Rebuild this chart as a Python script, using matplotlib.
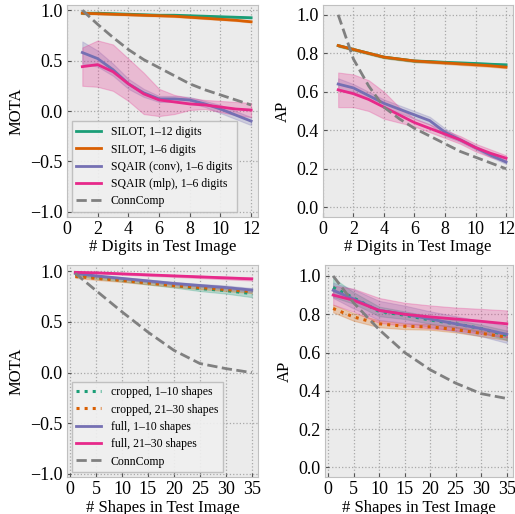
import matplotlib
matplotlib.use("Agg")
import matplotlib.pyplot as plt
import numpy as np

plt.rcParams['font.family'] = ['Liberation Serif', 'DejaVu Serif']
plt.rcParams['xtick.direction'] = 'in'
plt.rcParams['ytick.direction'] = 'in'

# colours (Dark2-ish)
green = '#1b9e77'
orange = '#d95f02'
purple = '#7570b3'
pink = '#e7298a'
gray = '#808080'

# ---- top row: digits ----
digits = [1, 2, 3, 4, 5, 6, 7, 8, 9, 10, 11, 12]

mota_silot12 = [0.97, 0.97, 0.965, 0.96, 0.955, 0.95, 0.95, 0.945, 0.94, 0.935, 0.93, 0.925]
mota_silot6 = [0.97, 0.965, 0.96, 0.955, 0.95, 0.945, 0.94, 0.93, 0.92, 0.91, 0.90, 0.885]
mota_conv = [0.58, 0.52, 0.41, 0.27, 0.18, 0.12, 0.12, 0.11, 0.07, 0.02, -0.04, -0.10]
mota_conv_hi = [0.69, 0.60, 0.47, 0.32, 0.22, 0.15, 0.15, 0.14, 0.10, 0.06, 0.00, -0.06]
mota_conv_lo = [0.47, 0.44, 0.35, 0.22, 0.14, 0.09, 0.09, 0.08, 0.04, -0.02, -0.08, -0.14]
mota_mlp = [0.44, 0.46, 0.39, 0.27, 0.17, 0.11, 0.09, 0.07, 0.06, 0.04, 0.02, 0.01]
mota_mlp_hi = [0.63, 0.70, 0.66, 0.52, 0.38, 0.22, 0.16, 0.13, 0.11, 0.10, 0.09, 0.08]
mota_mlp_lo = [0.25, 0.24, 0.20, 0.10, -0.03, -0.05, -0.03, 0.01, 0.02, -0.01, -0.04, -0.06]
mota_cc = [1.0, 0.86, 0.73, 0.61, 0.51, 0.43, 0.35, 0.27, 0.21, 0.16, 0.11, 0.06]

ap_silot12 = [0.84, 0.82, 0.80, 0.78, 0.77, 0.76, 0.757, 0.753, 0.75, 0.747, 0.743, 0.74]
ap_silot6 = [0.84, 0.82, 0.80, 0.78, 0.77, 0.76, 0.755, 0.75, 0.745, 0.74, 0.735, 0.728]
ap_conv = [0.64, 0.62, 0.58, 0.54, 0.51, 0.48, 0.45, 0.39, 0.35, 0.31, 0.27, 0.235]
ap_conv_hi = [0.67, 0.64, 0.60, 0.56, 0.53, 0.50, 0.47, 0.41, 0.36, 0.32, 0.28, 0.245]
ap_conv_lo = [0.61, 0.60, 0.56, 0.52, 0.49, 0.46, 0.43, 0.37, 0.34, 0.30, 0.26, 0.225]
ap_mlp = [0.61, 0.59, 0.56, 0.52, 0.48, 0.44, 0.41, 0.38, 0.35, 0.31, 0.28, 0.255]
ap_mlp_hi = [0.70, 0.69, 0.66, 0.60, 0.52, 0.46, 0.43, 0.40, 0.37, 0.33, 0.30, 0.27]
ap_mlp_lo = [0.52, 0.52, 0.50, 0.46, 0.44, 0.42, 0.39, 0.36, 0.33, 0.29, 0.26, 0.24]
ap_cc = [1.0, 0.77, 0.63, 0.52, 0.46, 0.41, 0.37, 0.33, 0.29, 0.26, 0.23, 0.20]

# ---- bottom row: shapes ----
shapes = [1, 5, 10, 15, 20, 25, 30, 35]

mota_crop10 = [0.97, 0.94, 0.915, 0.89, 0.86, 0.83, 0.81, 0.78]
mota_crop10_band = [0.01, 0.015, 0.015, 0.02, 0.02, 0.025, 0.03, 0.035]
mota_crop30 = [0.95, 0.93, 0.91, 0.885, 0.86, 0.84, 0.82, 0.80]
mota_crop30_band = [0.015, 0.015, 0.015, 0.015, 0.015, 0.015, 0.015, 0.015]
mota_full10 = [0.98, 0.955, 0.93, 0.905, 0.88, 0.86, 0.84, 0.815]
mota_full10_band = [0.01, 0.012, 0.012, 0.015, 0.015, 0.015, 0.02, 0.02]
mota_full30 = [0.99, 0.985, 0.975, 0.965, 0.955, 0.945, 0.935, 0.925]
mota_full30_band = [0.005, 0.006, 0.008, 0.01, 0.01, 0.012, 0.014, 0.016]
mota_cc_shapes = [0.98, 0.81, 0.60, 0.40, 0.22, 0.09, 0.04, 0.0]

ap_crop10 = [0.94, 0.885, 0.815, 0.795, 0.77, 0.75, 0.725, 0.69]
ap_crop10_band = [0.05, 0.03, 0.025, 0.02, 0.02, 0.02, 0.02, 0.025]
ap_crop30 = [0.83, 0.786, 0.75, 0.737, 0.734, 0.72, 0.70, 0.68]
ap_crop30_band = [0.02, 0.02, 0.018, 0.015, 0.015, 0.015, 0.015, 0.015]
ap_full10 = [0.925, 0.88, 0.82, 0.80, 0.775, 0.75, 0.725, 0.695]
ap_full10_band = [0.04, 0.05, 0.05, 0.045, 0.04, 0.04, 0.04, 0.045]
ap_full30 = [0.90, 0.873, 0.82, 0.80, 0.786, 0.775, 0.763, 0.75]
ap_full30_band = [0.05, 0.06, 0.065, 0.06, 0.06, 0.06, 0.065, 0.07]
ap_cc_shapes = [1.0, 0.86, 0.72, 0.60, 0.51, 0.44, 0.385, 0.36]


def style(ax):
    ax.set_facecolor('#ebebeb')
    for s in ax.spines.values():
        s.set_color('#c0c0c0')
    ax.grid(True, linestyle=':', color='#a8a8a8', linewidth=0.9)
    ax.set_axisbelow(True)
    ax.tick_params(labelsize=13, color='#555555', length=3, pad=3)


def band(ax, x, lo, hi, c, a=0.25):
    ax.fill_between(x, lo, hi, color=c, alpha=a, linewidth=0.8)


fig = plt.figure(figsize=(5.15, 5.14), dpi=100)
ax1 = fig.add_axes([0.130, 0.578, 0.371, 0.412])
ax2 = fig.add_axes([0.627, 0.578, 0.369, 0.412])
ax3 = fig.add_axes([0.130, 0.072, 0.371, 0.412])
ax4 = fig.add_axes([0.631, 0.072, 0.365, 0.412])

lw = 2.0

# panel 1
d = np.array(digits)
band(ax1, d, np.array(mota_silot12) - 0.008, np.array(mota_silot12) + 0.008, green)
band(ax1, d, np.array(mota_silot6) - 0.008, np.array(mota_silot6) + 0.008, orange)
band(ax1, d, mota_conv_lo, mota_conv_hi, purple)
band(ax1, d, mota_mlp_lo, mota_mlp_hi, pink)
ax1.plot(d, mota_silot12, color=green, lw=lw, label='SILOT, 1–12 digits')
ax1.plot(d, mota_silot6, color=orange, lw=lw, label='SILOT, 1–6 digits')
ax1.plot(d, mota_conv, color=purple, lw=lw, label='SQAIR (conv), 1–6 digits')
ax1.plot(d, mota_mlp, color=pink, lw=lw, label='SQAIR (mlp), 1–6 digits')
ax1.plot(d, mota_cc, color=gray, lw=lw, ls='--', label='ConnComp')
ax1.set_xlim(0, 12.45)
ax1.set_ylim(-1.05, 1.05)
ax1.set_xticks([0, 2, 4, 6, 8, 10, 12])
ax1.set_yticks([-1.0, -0.5, 0.0, 0.5, 1.0])
ax1.set_ylabel('MOTA', fontsize=12)
ax1.set_xlabel('# Digits in Test Image', fontsize=12, labelpad=1)

# panel 2
band(ax2, d, np.array(ap_silot12) - 0.006, np.array(ap_silot12) + 0.006, green)
band(ax2, d, np.array(ap_silot6) - 0.006, np.array(ap_silot6) + 0.006, orange)
band(ax2, d, ap_conv_lo, ap_conv_hi, purple)
band(ax2, d, ap_mlp_lo, ap_mlp_hi, pink)
ax2.plot(d, ap_silot12, color=green, lw=lw)
ax2.plot(d, ap_silot6, color=orange, lw=lw)
ax2.plot(d, ap_conv, color=purple, lw=lw)
ax2.plot(d, ap_mlp, color=pink, lw=lw)
ax2.plot(d, ap_cc, color=gray, lw=lw, ls='--')
ax2.set_xlim(0, 12.45)
ax2.set_ylim(-0.05, 1.05)
ax2.set_xticks([0, 2, 4, 6, 8, 10, 12])
ax2.set_yticks([0.0, 0.2, 0.4, 0.6, 0.8, 1.0])
ax2.set_ylabel('AP', fontsize=12)
ax2.set_xlabel('# Digits in Test Image', fontsize=12, labelpad=1)

# panel 3
s = np.array(shapes)
for m, b, c in [(mota_crop10, mota_crop10_band, green), (mota_crop30, mota_crop30_band, orange),
                (mota_full10, mota_full10_band, purple), (mota_full30, mota_full30_band, pink)]:
    band(ax3, s, np.array(m) - np.array(b), np.array(m) + np.array(b), c)
ax3.plot(s, mota_crop10, color=green, lw=2.2, ls=':', label='cropped, 1–10 shapes')
ax3.plot(s, mota_crop30, color=orange, lw=2.2, ls=':', label='cropped, 21–30 shapes')
ax3.plot(s, mota_full10, color=purple, lw=lw, label='full, 1–10 shapes')
ax3.plot(s, mota_full30, color=pink, lw=lw, label='full, 21–30 shapes')
ax3.plot(s, mota_cc_shapes, color=gray, lw=lw, ls='--', label='ConnComp')
ax3.set_xlim(-0.6, 36.2)
ax3.set_ylim(-1.03, 1.06)
ax3.set_xticks([0, 5, 10, 15, 20, 25, 30, 35])
ax3.set_yticks([-1.0, -0.5, 0.0, 0.5, 1.0])
ax3.set_ylabel('MOTA', fontsize=12)
ax3.set_xlabel('# Shapes in Test Image', fontsize=12, labelpad=1)

# panel 4
for m, b, c in [(ap_crop10, ap_crop10_band, green), (ap_crop30, ap_crop30_band, orange),
                (ap_full10, ap_full10_band, purple), (ap_full30, ap_full30_band, pink)]:
    band(ax4, s, np.array(m) - np.array(b), np.array(m) + np.array(b), c)
ax4.plot(s, ap_crop10, color=green, lw=2.2, ls=':')
ax4.plot(s, ap_crop30, color=orange, lw=2.2, ls=':')
ax4.plot(s, ap_full10, color=purple, lw=lw)
ax4.plot(s, ap_full30, color=pink, lw=lw)
ax4.plot(s, ap_cc_shapes, color=gray, lw=lw, ls='--')
ax4.set_xlim(-0.6, 36.2)
ax4.set_ylim(-0.05, 1.056)
ax4.set_xticks([0, 5, 10, 15, 20, 25, 30, 35])
ax4.set_yticks([0.0, 0.2, 0.4, 0.6, 0.8, 1.0])
ax4.set_ylabel('AP', fontsize=12)
ax4.set_xlabel('# Shapes in Test Image', fontsize=12, labelpad=1)

for ax in (ax1, ax3):
    style(ax)
for ax in (ax2, ax4):
    style(ax)

for ax in (ax1, ax3):
    leg = ax.legend(loc='lower left', fontsize=8.5, handlelength=2.1, handletextpad=0.8,
                    labelspacing=0.45, borderaxespad=0.4, framealpha=0.9,
                    facecolor='#f0f0f0', edgecolor='#bbbbbb', fancybox=False)

fig.savefig('out.png', dpi=100)
